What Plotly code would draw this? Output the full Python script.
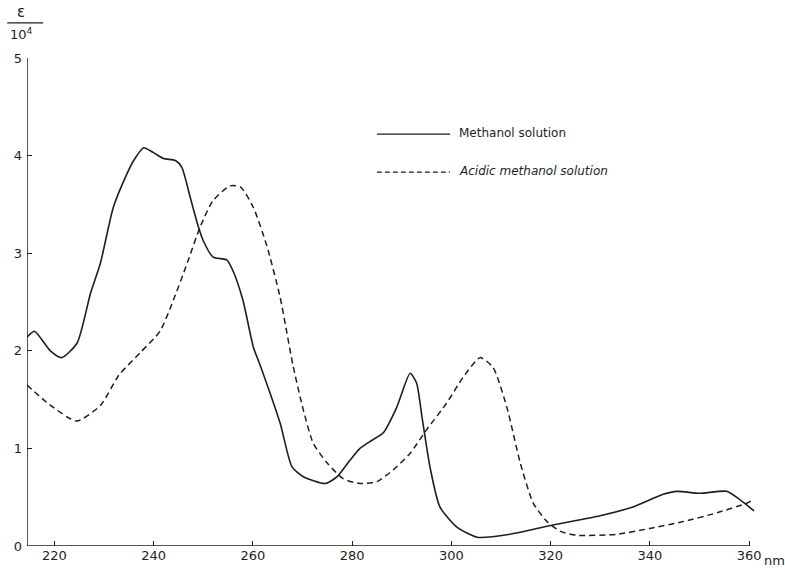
import plotly.graph_objects as go

# Methanol solution (solid)
meth_x = [214.5, 216, 219.2, 221.5, 224.6, 227.3, 229.3, 231.9, 234.7, 236, 238, 240, 242, 244.4,
          245.7, 247.4, 248.8, 250, 252, 254.8, 256, 258, 260.1, 261.5, 265.5, 267.9, 270.2,
          274.6, 277, 279.6, 281.6, 283.6, 286.3, 289, 291.7, 293, 294.1, 295.7, 297.7, 301.2,
          305.2, 311.8, 320, 330, 336.6, 342.7, 345.5, 350, 355.5, 358, 361]
meth_y = [2.14, 2.2, 2.0, 1.93, 2.08, 2.59, 2.9, 3.47, 3.82, 3.95, 4.08, 4.03, 3.97, 3.95,
          3.88, 3.57, 3.31, 3.13, 2.96, 2.93, 2.82, 2.52, 2.04, 1.85, 1.26, 0.81, 0.71,
          0.64, 0.71, 0.88, 1.0, 1.07, 1.16, 1.42, 1.77, 1.67, 1.32, 0.81, 0.4, 0.19,
          0.09, 0.12, 0.21, 0.31, 0.4, 0.53, 0.56, 0.54, 0.56, 0.48, 0.36]

# Acidic methanol solution (dashed)
acid_x = [214.5, 219, 224.5, 229.3, 233, 237.3, 241.3, 244, 246.8, 249.4, 252, 255.4, 257.5,
          260.1, 262.8, 265.5, 268.1, 270.2, 272.2, 275, 278.2, 281.6, 285, 288.3, 291.7, 295,
          299, 302.4, 305.8, 308.4, 311.2, 313.9, 316.5, 319.3, 322, 325.3, 333.4, 340, 346.7,
          353.5, 359.6, 361]
acid_y = [1.65, 1.45, 1.28, 1.44, 1.75, 1.98, 2.2, 2.52, 2.9, 3.27, 3.54, 3.69, 3.68,
          3.47, 3.08, 2.55, 1.85, 1.39, 1.05, 0.85, 0.69, 0.64, 0.66, 0.78, 0.95, 1.19,
          1.46, 1.73, 1.93, 1.83, 1.42, 0.85, 0.44, 0.25, 0.15, 0.11, 0.12, 0.18, 0.25,
          0.34, 0.44, 0.48]

x_ticks = [220, 240, 260, 280, 300, 320, 340, 360]
y_ticks = [0, 1, 2, 3, 4, 5]
legend_labels = ["Methanol solution", "Acidic methanol solution"]

ink = "#1e1e1e"
font = "DejaVu Sans"

fig = go.Figure()
fig.add_trace(go.Scatter(x=meth_x, y=meth_y, mode="lines", line=dict(color=ink, width=1.6, shape="spline", smoothing=0.6),
                         name=legend_labels[0], showlegend=False))
fig.add_trace(go.Scatter(x=acid_x, y=acid_y, mode="lines", line=dict(color=ink, width=1.5, dash="6px,4px", shape="spline", smoothing=0.6),
                         name=legend_labels[1], showlegend=False))

# axis lines drawn as shapes (x axis stops at 360)
fig.add_shape(type="line", xref="x", yref="y", x0=214.5, x1=360, y0=0, y1=0, line=dict(color=ink, width=1.5))
fig.add_shape(type="line", xref="x", yref="y", x0=214.5, x1=214.5, y0=0, y1=5, line=dict(color=ink, width=1.5))

# legend drawn manually
fig.add_shape(type="line", xref="paper", yref="paper", x0=0.478, x1=0.578, y0=0.844, y1=0.844, line=dict(color=ink, width=1.3))
fig.add_shape(type="line", xref="paper", yref="paper", x0=0.478, x1=0.578, y0=0.766, y1=0.766, line=dict(color=ink, width=1.3, dash="5px,3px"))
fig.add_annotation(xref="paper", yref="paper", x=0.588, y=0.846, text=legend_labels[0], showarrow=False,
                   xanchor="left", yanchor="middle", font=dict(family=font, size=12, color=ink))
fig.add_annotation(xref="paper", yref="paper", x=0.588, y=0.768, text="<i>" + legend_labels[1] + "</i>", showarrow=False,
                   xanchor="left", yanchor="middle", font=dict(family=font, size=12, color=ink))

# y-axis label epsilon / 10^4
fig.add_annotation(xref="paper", yref="paper", x=-0.008, y=1.094, text="ε", showarrow=False,
                   xanchor="center", yanchor="middle", font=dict(family=font, size=15, color=ink))
fig.add_shape(type="line", xref="paper", yref="paper", x0=-0.027, x1=0.022, y0=1.072, y1=1.072, line=dict(color=ink, width=1.3))
fig.add_annotation(xref="paper", yref="paper", x=-0.008, y=1.05, text="10<sup>4</sup>", showarrow=False,
                   xanchor="center", yanchor="middle", font=dict(family=font, size=13, color=ink))

# "nm" unit
fig.add_annotation(xref="paper", yref="paper", x=1.004, y=-0.03, text="nm", showarrow=False,
                   xanchor="left", yanchor="middle", font=dict(family=font, size=13, color=ink))

fig.update_xaxes(range=[214.5, 362], tickvals=x_ticks, ticks="inside", ticklen=5, tickcolor=ink, tickwidth=1.3,
                 showgrid=False, zeroline=False, showline=False, automargin=False,
                 tickfont=dict(family=font, size=13, color=ink))
fig.update_yaxes(range=[0, 5], tickvals=y_ticks, ticks="inside", ticklen=5, tickcolor=ink, tickwidth=1.3,
                 showgrid=False, zeroline=False, showline=False, automargin=False,
                 tickfont=dict(family=font, size=13, color=ink), ticklabelstandoff=4)

fig.update_layout(width=785, height=572, margin=dict(l=27, r=26, t=58, b=26, autoexpand=False),
                  paper_bgcolor="white", plot_bgcolor="white")

fig.write_html("out.html", config={"displayModeBar": False},
               post_script="document.body.style.margin='0';document.body.style.overflow='hidden';")
